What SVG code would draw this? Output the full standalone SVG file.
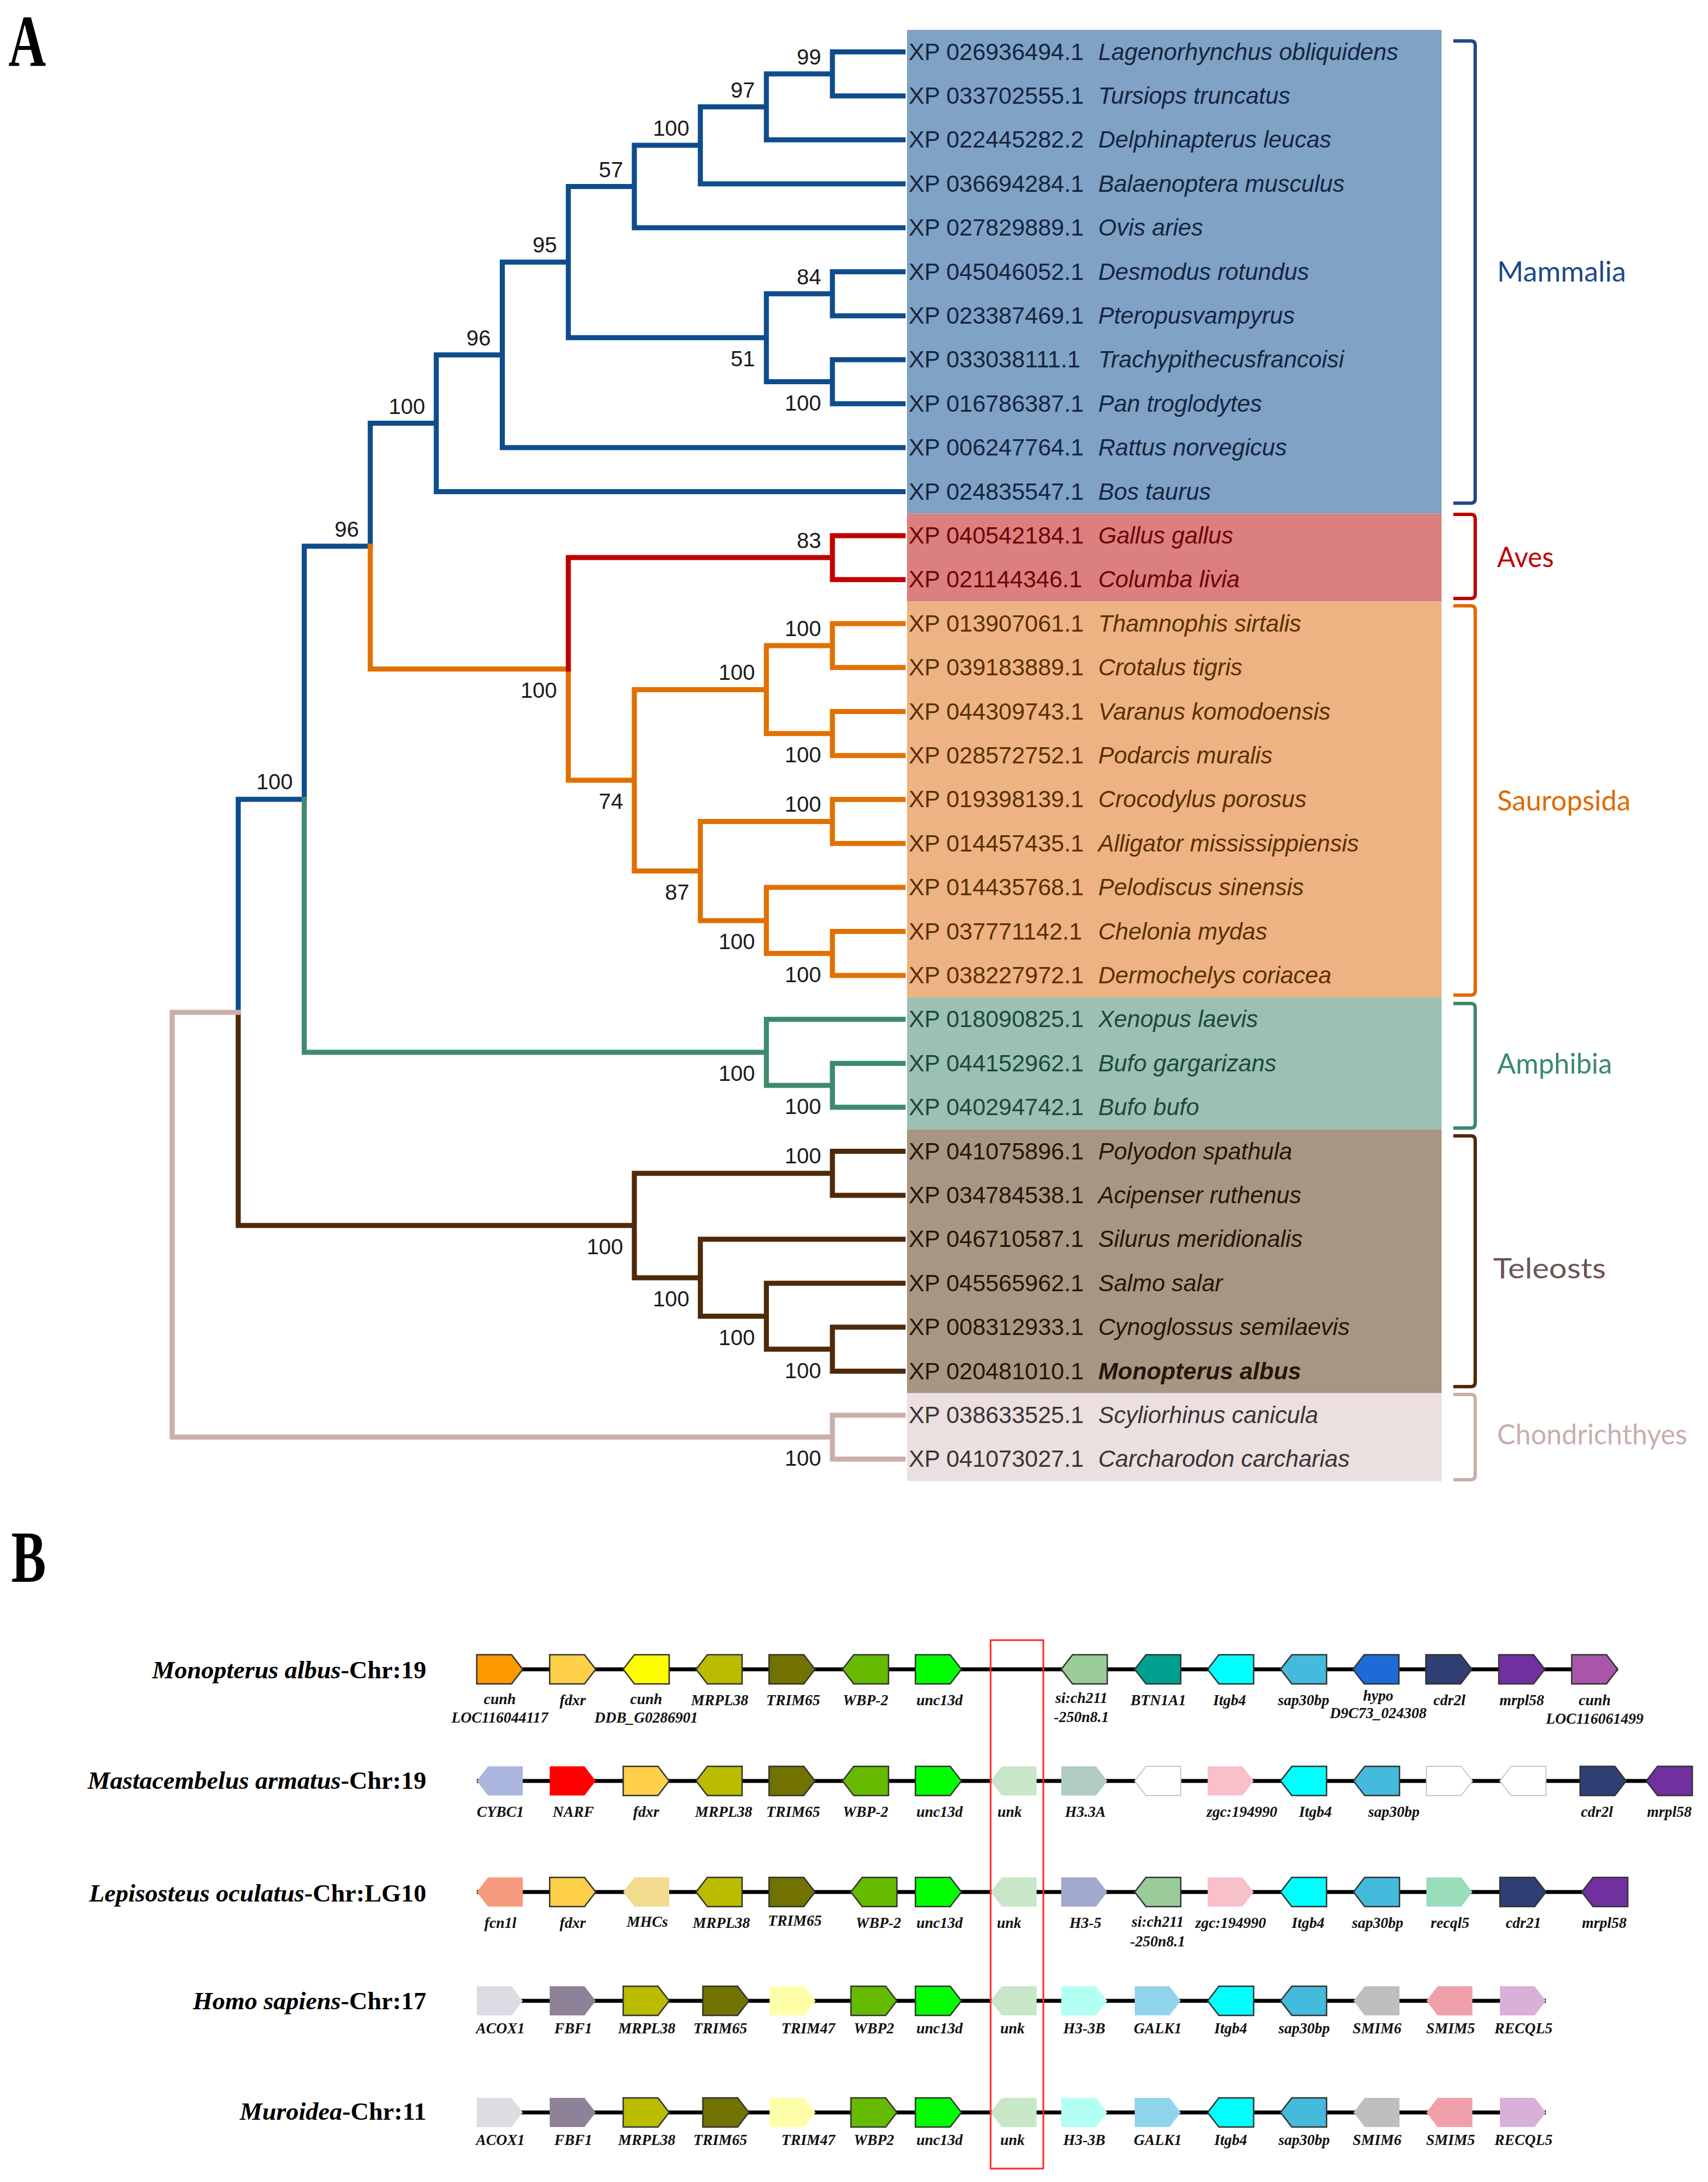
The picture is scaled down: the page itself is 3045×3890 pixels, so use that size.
<svg xmlns="http://www.w3.org/2000/svg" xmlns:xlink="http://www.w3.org/1999/xlink" width="3045" height="3890" viewBox="0 0 3045 3890">
<style>
.br{fill:none;stroke-width:9;stroke-linejoin:miter;stroke-linecap:square}
.bl{stroke:#0F4C8C}.rd{stroke:#C00000}.or{stroke:#E07000}.gr{stroke:#3E8A6C}.bw{stroke:#4E2A08}.pk{stroke:#C9AFAC}
.bs{font-family:"Liberation Sans",Arial,sans-serif;font-size:39px;fill:#1a1a1a;text-anchor:end}
.id{font-family:"Liberation Sans",Arial,sans-serif;font-size:42px}
.sp{font-family:"Liberation Sans",Arial,sans-serif;font-size:42px;font-style:italic}
.grp{font-family:Lato,"Open Sans",sans-serif;font-size:50px}
.bk{fill:none;stroke-width:6}
.bd{stroke:#333;stroke-width:2.5}
.nb{stroke:none}
.wb{stroke:#C8C8C8;stroke-width:2}
.gl{font-family:"Liberation Serif","Times New Roman",serif;font-weight:bold;font-style:italic;font-size:27px;text-anchor:middle;fill:#111}
.chr{font-family:"Liberation Serif","Times New Roman",serif;font-weight:bold;font-size:45px;text-anchor:end;fill:#000}
.bb{stroke:#000;stroke-width:7;fill:none}
.pl{font-family:"Liberation Serif","Times New Roman",serif;font-weight:bold;font-size:132px;fill:#000}
</style>
<defs>
<polygon id="gR" points="0,-26 62,-26 82,0 62,26 0,26"/>
<polygon id="gL" points="82,-26 20,-26 0,0 20,26 82,26"/>
</defs>
<rect width="3045" height="3890" fill="#fff"/>
<text class="pl" x="15" y="118" textLength="67" lengthAdjust="spacingAndGlyphs">A</text>
<text class="pl" x="20" y="2820" textLength="62" lengthAdjust="spacingAndGlyphs">B</text>

<!-- clade boxes -->
<g id="boxes">
<rect x="1617" y="53.3" width="953" height="862.4" fill="#7FA2C5"/>
<rect x="1617" y="915.7" width="953" height="156.8" fill="#DB7F7F"/>
<rect x="1617" y="1072.5" width="953" height="705.6" fill="#EDB383"/>
<rect x="1617" y="1778.1" width="953" height="235.2" fill="#9CC0B3"/>
<rect x="1617" y="2013.3" width="953" height="470.4" fill="#A99682"/>
<rect x="1617" y="2483.7" width="953" height="156.8" fill="#EBDFDF"/>
</g>

<g id="connectors">
<path class="br bl" d="M1610,92.5 H1484 V170.9 H1610 M1484,131.7 H1366.3 V249.3 H1610 M1366.3,190.5 H1248.6 V327.7 H1610 M1248.6,259.1 H1130.9 V406.1 H1610 M1610,484.5 H1484 V562.9 H1610 M1610,641.3 H1484 V719.7 H1610 M1484,523.7 H1366.3 V680.5 H1484 M1130.9,332.6 H1013.2 V602.1 H1366.3 M1013.2,467.35 H895.5 V798.1 H1610 M895.5,632.7 H777.8 V876.5 H1610 M777.8,754.6 H660.1 V973.7 M660.1,973.7 H542.4 V1424.9 M542.4,1424.9 H424.7 V1804.85"/>
<path class="br or" d="M660.1,973.7 V1192.7 H1013.2 M1013.2,1192.7 V1391.1 H1130.9 M1366.3,1229.5 H1130.9 V1552.7 H1248.6 M1484,1150.9 H1366.3 V1307.7 H1484 M1610,1111.7 H1484 V1190.1 H1610 M1610,1268.5 H1484 V1346.9 H1610 M1484,1464.5 H1248.6 V1641.3 H1366.3 M1610,1425.3 H1484 V1503.7 H1610 M1610,1582.1 H1366.3 V1699.7 H1484 M1610,1660.5 H1484 V1738.9 H1610"/>
<path class="br rd" d="M1013.2,1192.7 V994.1 H1484 M1610,954.9 H1484 V1033.3 H1610"/>
<path class="br gr" d="M542.4,1424.9 V1876.1 H1366.3 M1610,1817.3 H1366.3 V1934.9 H1484 M1610,1895.7 H1484 V1974.1 H1610"/>
<path class="br bw" d="M424.7,1804.85 V2184.8 H1130.9 M1484,2091.7 H1130.9 V2277.9 H1248.6 M1610,2052.5 H1484 V2130.9 H1610 M1610,2209.3 H1248.6 V2346.5 H1366.3 M1610,2287.7 H1366.3 V2405.3 H1484 M1610,2366.1 H1484 V2444.5 H1610"/>
<path class="br pk" d="M424.7,1804.85 H307 V2562.1 H1484 M1610,2522.9 H1484 V2601.3 H1610"/>
</g>

<g id="support">
<text class="bs" x="1464" y="115">99</text>
<text class="bs" x="1346" y="174">97</text>
<text class="bs" x="1229" y="242">100</text>
<text class="bs" x="1111" y="316">57</text>
<text class="bs" x="1464" y="507">84</text>
<text class="bs" x="1464" y="732">100</text>
<text class="bs" x="1346" y="653">51</text>
<text class="bs" x="993" y="450">95</text>
<text class="bs" x="875" y="616">96</text>
<text class="bs" x="758" y="738">100</text>
<text class="bs" x="640" y="957">96</text>
<text class="bs" x="993" y="1244">100</text>
<text class="bs" x="1464" y="977">83</text>
<text class="bs" x="1111" y="1442">74</text>
<text class="bs" x="1346" y="1212">100</text>
<text class="bs" x="1464" y="1134">100</text>
<text class="bs" x="1464" y="1359">100</text>
<text class="bs" x="1229" y="1604">87</text>
<text class="bs" x="1464" y="1447">100</text>
<text class="bs" x="1346" y="1692">100</text>
<text class="bs" x="1464" y="1751">100</text>
<text class="bs" x="522" y="1407">100</text>
<text class="bs" x="1346" y="1927">100</text>
<text class="bs" x="1464" y="1986">100</text>
<text class="bs" x="1111" y="2236">100</text>
<text class="bs" x="1464" y="2074">100</text>
<text class="bs" x="1229" y="2329">100</text>
<text class="bs" x="1346" y="2398">100</text>
<text class="bs" x="1464" y="2457">100</text>
<text class="bs" x="1464" y="2613">100</text>
</g>

<g id="leaves">
<g id="leaf1" fill="#15253F"><text class="id" x="1620" y="106.5">XP 026936494.1</text><text class="sp" x="1958" y="106.5">Lagenorhynchus obliquidens</text></g>
<g id="leaf2" fill="#15253F"><text class="id" x="1620" y="184.9">XP 033702555.1</text><text class="sp" x="1958" y="184.9">Tursiops truncatus</text></g>
<g id="leaf3" fill="#15253F"><text class="id" x="1620" y="263.3">XP 022445282.2</text><text class="sp" x="1958" y="263.3">Delphinapterus leucas</text></g>
<g id="leaf4" fill="#15253F"><text class="id" x="1620" y="341.7">XP 036694284.1</text><text class="sp" x="1958" y="341.7">Balaenoptera musculus</text></g>
<g id="leaf5" fill="#15253F"><text class="id" x="1620" y="420.1">XP 027829889.1</text><text class="sp" x="1958" y="420.1">Ovis aries</text></g>
<g id="leaf6" fill="#15253F"><text class="id" x="1620" y="498.5">XP 045046052.1</text><text class="sp" x="1958" y="498.5">Desmodus rotundus</text></g>
<g id="leaf7" fill="#15253F"><text class="id" x="1620" y="576.9">XP 023387469.1</text><text class="sp" x="1958" y="576.9">Pteropusvampyrus</text></g>
<g id="leaf8" fill="#15253F"><text class="id" x="1620" y="655.3">XP 033038111.1</text><text class="sp" x="1958" y="655.3">Trachypithecusfrancoisi</text></g>
<g id="leaf9" fill="#15253F"><text class="id" x="1620" y="733.7">XP 016786387.1</text><text class="sp" x="1958" y="733.7">Pan troglodytes</text></g>
<g id="leaf10" fill="#15253F"><text class="id" x="1620" y="812.1">XP 006247764.1</text><text class="sp" x="1958" y="812.1">Rattus norvegicus</text></g>
<g id="leaf11" fill="#15253F"><text class="id" x="1620" y="890.5">XP 024835547.1</text><text class="sp" x="1958" y="890.5">Bos taurus</text></g>
<g id="leaf12" fill="#6B0505"><text class="id" x="1620" y="968.9">XP 040542184.1</text><text class="sp" x="1958" y="968.9">Gallus gallus</text></g>
<g id="leaf13" fill="#6B0505"><text class="id" x="1620" y="1047.3">XP 021144346.1</text><text class="sp" x="1958" y="1047.3">Columba livia</text></g>
<g id="leaf14" fill="#5A3000"><text class="id" x="1620" y="1125.7">XP 013907061.1</text><text class="sp" x="1958" y="1125.7">Thamnophis sirtalis</text></g>
<g id="leaf15" fill="#5A3000"><text class="id" x="1620" y="1204.1">XP 039183889.1</text><text class="sp" x="1958" y="1204.1">Crotalus tigris</text></g>
<g id="leaf16" fill="#5A3000"><text class="id" x="1620" y="1282.5">XP 044309743.1</text><text class="sp" x="1958" y="1282.5">Varanus komodoensis</text></g>
<g id="leaf17" fill="#5A3000"><text class="id" x="1620" y="1360.9">XP 028572752.1</text><text class="sp" x="1958" y="1360.9">Podarcis muralis</text></g>
<g id="leaf18" fill="#5A3000"><text class="id" x="1620" y="1439.3">XP 019398139.1</text><text class="sp" x="1958" y="1439.3">Crocodylus porosus</text></g>
<g id="leaf19" fill="#5A3000"><text class="id" x="1620" y="1517.7">XP 014457435.1</text><text class="sp" x="1958" y="1517.7">Alligator mississippiensis</text></g>
<g id="leaf20" fill="#5A3000"><text class="id" x="1620" y="1596.1">XP 014435768.1</text><text class="sp" x="1958" y="1596.1">Pelodiscus sinensis</text></g>
<g id="leaf21" fill="#5A3000"><text class="id" x="1620" y="1674.5">XP 037771142.1</text><text class="sp" x="1958" y="1674.5">Chelonia mydas</text></g>
<g id="leaf22" fill="#5A3000"><text class="id" x="1620" y="1752.9">XP 038227972.1</text><text class="sp" x="1958" y="1752.9">Dermochelys coriacea</text></g>
<g id="leaf23" fill="#1A4A3A"><text class="id" x="1620" y="1831.3">XP 018090825.1</text><text class="sp" x="1958" y="1831.3">Xenopus laevis</text></g>
<g id="leaf24" fill="#1A4A3A"><text class="id" x="1620" y="1909.7">XP 044152962.1</text><text class="sp" x="1958" y="1909.7">Bufo gargarizans</text></g>
<g id="leaf25" fill="#1A4A3A"><text class="id" x="1620" y="1988.1">XP 040294742.1</text><text class="sp" x="1958" y="1988.1">Bufo bufo</text></g>
<g id="leaf26" fill="#24160A"><text class="id" x="1620" y="2066.5">XP 041075896.1</text><text class="sp" x="1958" y="2066.5">Polyodon spathula</text></g>
<g id="leaf27" fill="#24160A"><text class="id" x="1620" y="2144.9">XP 034784538.1</text><text class="sp" x="1958" y="2144.9">Acipenser ruthenus</text></g>
<g id="leaf28" fill="#24160A"><text class="id" x="1620" y="2223.3">XP 046710587.1</text><text class="sp" x="1958" y="2223.3">Silurus meridionalis</text></g>
<g id="leaf29" fill="#24160A"><text class="id" x="1620" y="2301.7">XP 045565962.1</text><text class="sp" x="1958" y="2301.7">Salmo salar</text></g>
<g id="leaf30" fill="#24160A"><text class="id" x="1620" y="2380.1">XP 008312933.1</text><text class="sp" x="1958" y="2380.1">Cynoglossus semilaevis</text></g>
<g id="leaf31" fill="#24160A"><text class="id" x="1620" y="2458.5">XP 020481010.1</text><text class="sp" x="1958" y="2458.5" font-weight="bold">Monopterus albus</text></g>
<g id="leaf32" fill="#3A3434"><text class="id" x="1620" y="2536.9">XP 038633525.1</text><text class="sp" x="1958" y="2536.9">Scyliorhinus canicula</text></g>
<g id="leaf33" fill="#3A3434"><text class="id" x="1620" y="2615.3">XP 041073027.1</text><text class="sp" x="1958" y="2615.3">Carcharodon carcharias</text></g>
</g>

<g id="clades">
<g id="mammalia"><path class="bk" stroke="#1F4A8A" d="M2591,73 H2622 Q2630,73 2630,81 V889 Q2630,897 2622,897 H2591"/><text class="grp" x="2669" y="502" fill="#1F4A8A" textLength="230" lengthAdjust="spacingAndGlyphs">Mammalia</text></g>
<g id="aves"><path class="bk" stroke="#C00000" d="M2591,917 H2622 Q2630,917 2630,925 V1059 Q2630,1067 2622,1067 H2591"/><text class="grp" x="2669" y="1011" fill="#C00000" textLength="101" lengthAdjust="spacingAndGlyphs">Aves</text></g>
<g id="sauropsida"><path class="bk" stroke="#E06A00" d="M2591,1080 H2622 Q2630,1080 2630,1088 V1766 Q2630,1774 2622,1774 H2591"/><text class="grp" x="2669" y="1445" fill="#E06A00" textLength="238" lengthAdjust="spacingAndGlyphs">Sauropsida</text></g>
<g id="amphibia"><path class="bk" stroke="#3A8A6A" d="M2591,1789 H2622 Q2630,1789 2630,1797 V2003 Q2630,2011 2622,2011 H2591"/><text class="grp" x="2669" y="1914" fill="#3A8A6A" textLength="205" lengthAdjust="spacingAndGlyphs">Amphibia</text></g>
<g id="teleosts"><path class="bk" stroke="#4E2A08" d="M2591,2025 H2622 Q2630,2025 2630,2033 V2464 Q2630,2472 2622,2472 H2591"/><text class="grp" x="2662" y="2279" fill="#6B5555" font-size="53" textLength="201" lengthAdjust="spacingAndGlyphs">Teleosts</text></g>
<g id="chondrichthyes"><path class="bk" stroke="#C9AFAC" d="M2591,2486 H2622 Q2630,2486 2630,2494 V2630 Q2630,2638 2622,2638 H2591"/><text class="grp" x="2669" y="2575" fill="#C8AEAC" textLength="339" lengthAdjust="spacingAndGlyphs">Chondrichthyes</text></g>
</g>

<!-- Panel B -->
<g id="backbones">
<line class="bb" x1="850" y1="2976" x2="2884" y2="2976"/>
<line class="bb" x1="850" y1="3175" x2="3017" y2="3175"/>
<line class="bb" x1="850" y1="3373" x2="2902" y2="3373"/>
<line class="bb" x1="850" y1="3567" x2="2756" y2="3567"/>
<line class="bb" x1="850" y1="3766" x2="2756" y2="3766"/>
</g>

<g id="species">
<text class="chr" x="760" y="2992"><tspan font-style="italic">Monopterus albus</tspan>-Chr:19</text>
<text class="chr" x="760" y="3189"><tspan font-style="italic">Mastacembelus armatus</tspan>-Chr:19</text>
<text class="chr" x="760" y="3390"><tspan font-style="italic">Lepisosteus oculatus</tspan>-Chr:LG10</text>
<text class="chr" x="760" y="3582"><tspan font-style="italic">Homo sapiens</tspan>-Chr:17</text>
<text class="chr" x="760" y="3779"><tspan font-style="italic">Muroidea</tspan>-Chr:11</text>
</g>

<g id="row1">
<g id="r1g0"><use href="#gR" x="850" y="2976" fill="#FF9900" class="bd"/><text class="gl" x="891" y="3038">cunh</text><text class="gl" x="891" y="3071">LOC116044117</text></g>
<g id="r1g1"><use href="#gR" x="980" y="2976" fill="#FFD04A" class="bd"/><text class="gl" x="1021" y="3040">fdxr</text></g>
<g id="r1g2"><use href="#gL" x="1111" y="2976" fill="#FFFF00" class="bd"/><text class="gl" x="1152" y="3038">cunh</text><text class="gl" x="1152" y="3071">DDB_G0286901</text></g>
<g id="r1g3"><use href="#gL" x="1241" y="2976" fill="#BBBB00" class="bd"/><text class="gl" x="1283" y="3040">MRPL38</text></g>
<g id="r1g4"><use href="#gR" x="1371" y="2976" fill="#727200" class="bd"/><text class="gl" x="1414" y="3040">TRIM65</text></g>
<g id="r1g5"><use href="#gL" x="1502" y="2976" fill="#66BB00" class="bd"/><text class="gl" x="1543" y="3040">WBP-2</text></g>
<g id="r1g6"><use href="#gR" x="1632" y="2976" fill="#00FF00" class="bd"/><text class="gl" x="1675" y="3040">unc13d</text></g>
<g id="r1g8"><use href="#gL" x="1892" y="2976" fill="#99CC99" class="bd"/><text class="gl" x="1928" y="3036">si:ch211</text><text class="gl" x="1928" y="3070">-250n8.1</text></g>
<g id="r1g9"><use href="#gL" x="2023" y="2976" fill="#00A090" class="bd"/><text class="gl" x="2065" y="3040">BTN1A1</text></g>
<g id="r1g10"><use href="#gL" x="2153" y="2976" fill="#00FFFF" class="bd"/><text class="gl" x="2192" y="3040">Itgb4</text></g>
<g id="r1g11"><use href="#gL" x="2283" y="2976" fill="#44BBDD" class="bd"/><text class="gl" x="2324" y="3040">sap30bp</text></g>
<g id="r1g12"><use href="#gL" x="2412" y="2976" fill="#1E6AD6" class="bd"/><text class="gl" x="2457" y="3032">hypo</text><text class="gl" x="2457" y="3063">D9C73_024308</text></g>
<g id="r1g13"><use href="#gR" x="2542" y="2976" fill="#2F3F73" class="bd"/><text class="gl" x="2584" y="3040">cdr2l</text></g>
<g id="r1g14"><use href="#gR" x="2672" y="2976" fill="#7030A0" class="bd"/><text class="gl" x="2713" y="3040">mrpl58</text></g>
<g id="r1g15"><use href="#gR" x="2802" y="2976" fill="#A855AA" class="bd"/><text class="gl" x="2843" y="3040">cunh</text><text class="gl" x="2843" y="3073">LOC116061499</text></g>
</g>

<g id="row2">
<g id="r2g0"><use href="#gL" x="850" y="3175" fill="#AAB6DD" class="nb"/><text class="gl" x="892" y="3239">CYBC1</text></g>
<g id="r2g1"><use href="#gR" x="980" y="3175" fill="#FF0000" class="nb"/><text class="gl" x="1022" y="3239">NARF</text></g>
<g id="r2g2"><use href="#gR" x="1111" y="3175" fill="#FFD04A" class="bd"/><text class="gl" x="1152" y="3239">fdxr</text></g>
<g id="r2g3"><use href="#gL" x="1241" y="3175" fill="#BBBB00" class="bd"/><text class="gl" x="1290" y="3239">MRPL38</text></g>
<g id="r2g4"><use href="#gR" x="1371" y="3175" fill="#727200" class="bd"/><text class="gl" x="1414" y="3239">TRIM65</text></g>
<g id="r2g5"><use href="#gL" x="1502" y="3175" fill="#66BB00" class="bd"/><text class="gl" x="1543" y="3239">WBP-2</text></g>
<g id="r2g6"><use href="#gR" x="1632" y="3175" fill="#00FF00" class="bd"/><text class="gl" x="1675" y="3239">unc13d</text></g>
<g id="r2g7"><use href="#gL" x="1766" y="3175" fill="#C8E6C8" class="nb"/><text class="gl" x="1800" y="3239">unk</text></g>
<g id="r2g8"><use href="#gR" x="1892" y="3175" fill="#B0CCC4" class="nb"/><text class="gl" x="1935" y="3239">H3.3A</text></g>
<g id="r2g9"><use href="#gL" x="2023" y="3175" fill="#FFFFFF" class="wb"/></g>
<g id="r2g10"><use href="#gR" x="2153" y="3175" fill="#F8C0CA" class="nb"/><text class="gl" x="2214" y="3239">zgc:194990</text></g>
<g id="r2g11"><use href="#gL" x="2283" y="3175" fill="#00FFFF" class="bd"/><text class="gl" x="2345" y="3239">Itgb4</text></g>
<g id="r2g12"><use href="#gL" x="2413" y="3175" fill="#44BBDD" class="bd"/><text class="gl" x="2485" y="3239">sap30bp</text></g>
<g id="r2g13"><use href="#gR" x="2543" y="3175" fill="#FFFFFF" class="wb"/></g>
<g id="r2g14"><use href="#gL" x="2674" y="3175" fill="#FFFFFF" class="wb"/></g>
<g id="r2g15"><use href="#gR" x="2817" y="3175" fill="#2F3F73" class="bd"/><text class="gl" x="2847" y="3239">cdr2l</text></g>
<g id="r2g16"><use href="#gL" x="2935" y="3175" fill="#7030A0" class="bd"/><text class="gl" x="2976" y="3239">mrpl58</text></g>
</g>

<g id="row3">
<g id="r3g0"><use href="#gL" x="850" y="3373" fill="#F59A7C" class="nb"/><text class="gl" x="892" y="3437">fcn1l</text></g>
<g id="r3g1"><use href="#gR" x="980" y="3373" fill="#FFD04A" class="bd"/><text class="gl" x="1021" y="3437">fdxr</text></g>
<g id="r3g2"><use href="#gL" x="1111" y="3373" fill="#F0DC8C" class="nb"/><text class="gl" x="1154" y="3435">MHCs</text></g>
<g id="r3g3"><use href="#gL" x="1241" y="3373" fill="#BBBB00" class="bd"/><text class="gl" x="1286" y="3437">MRPL38</text></g>
<g id="r3g4"><use href="#gR" x="1371" y="3373" fill="#727200" class="bd"/><text class="gl" x="1417" y="3433">TRIM65</text></g>
<g id="r3g5"><use href="#gL" x="1517" y="3373" fill="#66BB00" class="bd"/><text class="gl" x="1566" y="3437">WBP-2</text></g>
<g id="r3g6"><use href="#gR" x="1632" y="3373" fill="#00FF00" class="bd"/><text class="gl" x="1675" y="3437">unc13d</text></g>
<g id="r3g7"><use href="#gL" x="1766" y="3373" fill="#C8E6C8" class="nb"/><text class="gl" x="1799" y="3437">unk</text></g>
<g id="r3g8"><use href="#gR" x="1892" y="3373" fill="#A0A8CC" class="nb"/><text class="gl" x="1935" y="3437">H3-5</text></g>
<g id="r3g9"><use href="#gL" x="2023" y="3373" fill="#99CC99" class="bd"/><text class="gl" x="2064" y="3435">si:ch211</text><text class="gl" x="2064" y="3470">-250n8.1</text></g>
<g id="r3g10"><use href="#gR" x="2153" y="3373" fill="#F8C0CA" class="nb"/><text class="gl" x="2194" y="3437">zgc:194990</text></g>
<g id="r3g11"><use href="#gL" x="2283" y="3373" fill="#00FFFF" class="bd"/><text class="gl" x="2332" y="3437">Itgb4</text></g>
<g id="r3g12"><use href="#gL" x="2413" y="3373" fill="#44BBDD" class="bd"/><text class="gl" x="2456" y="3437">sap30bp</text></g>
<g id="r3g13"><use href="#gR" x="2543" y="3373" fill="#99DDBB" class="nb"/><text class="gl" x="2585" y="3437">recql5</text></g>
<g id="r3g14"><use href="#gR" x="2674" y="3373" fill="#2F3F73" class="bd"/><text class="gl" x="2716" y="3437">cdr21</text></g>
<g id="r3g15"><use href="#gL" x="2820" y="3373" fill="#7030A0" class="bd"/><text class="gl" x="2860" y="3437">mrpl58</text></g>
</g>

<g id="row4">
<g id="r4g0"><use href="#gR" x="850" y="3567" fill="#DCDCE4" class="nb"/><text class="gl" x="892" y="3625">ACOX1</text></g>
<g id="r4g1"><use href="#gR" x="980" y="3567" fill="#8E8298" class="nb"/><text class="gl" x="1022" y="3625">FBF1</text></g>
<g id="r4g2"><use href="#gR" x="1111" y="3567" fill="#BBBB00" class="bd"/><text class="gl" x="1153" y="3625">MRPL38</text></g>
<g id="r4g3"><use href="#gR" x="1253" y="3567" fill="#727200" class="bd"/><text class="gl" x="1284" y="3625">TRIM65</text></g>
<g id="r4g4"><use href="#gR" x="1372" y="3567" fill="#FFFFAA" class="nb"/><text class="gl" x="1441" y="3625">TRIM47</text></g>
<g id="r4g5"><use href="#gR" x="1517" y="3567" fill="#66BB00" class="bd"/><text class="gl" x="1558" y="3625">WBP2</text></g>
<g id="r4g6"><use href="#gR" x="1632" y="3567" fill="#00FF00" class="bd"/><text class="gl" x="1675" y="3625">unc13d</text></g>
<g id="r4g7"><use href="#gL" x="1766" y="3567" fill="#C8E6C8" class="nb"/><text class="gl" x="1805" y="3625">unk</text></g>
<g id="r4g8"><use href="#gR" x="1892" y="3567" fill="#B4FFF4" class="nb"/><text class="gl" x="1933" y="3625">H3-3B</text></g>
<g id="r4g9"><use href="#gR" x="2023" y="3567" fill="#90D4EC" class="nb"/><text class="gl" x="2064" y="3625">GALK1</text></g>
<g id="r4g10"><use href="#gL" x="2153" y="3567" fill="#00FFFF" class="bd"/><text class="gl" x="2194" y="3625">Itgb4</text></g>
<g id="r4g11"><use href="#gL" x="2283" y="3567" fill="#44BBDD" class="bd"/><text class="gl" x="2325" y="3625">sap30bp</text></g>
<g id="r4g12"><use href="#gL" x="2413" y="3567" fill="#BEBEBE" class="nb"/><text class="gl" x="2455" y="3625">SMIM6</text></g>
<g id="r4g13"><use href="#gL" x="2543" y="3567" fill="#F0A0A8" class="nb"/><text class="gl" x="2586" y="3625">SMIM5</text></g>
<g id="r4g14"><use href="#gR" x="2674" y="3567" fill="#D8B0D8" class="nb"/><text class="gl" x="2716" y="3625">RECQL5</text></g>
</g>

<g id="row5">
<g id="r5g0"><use href="#gR" x="850" y="3766" fill="#DCDCE4" class="nb"/><text class="gl" x="892" y="3824">ACOX1</text></g>
<g id="r5g1"><use href="#gR" x="980" y="3766" fill="#8E8298" class="nb"/><text class="gl" x="1022" y="3824">FBF1</text></g>
<g id="r5g2"><use href="#gR" x="1111" y="3766" fill="#BBBB00" class="bd"/><text class="gl" x="1153" y="3824">MRPL38</text></g>
<g id="r5g3"><use href="#gR" x="1253" y="3766" fill="#727200" class="bd"/><text class="gl" x="1284" y="3824">TRIM65</text></g>
<g id="r5g4"><use href="#gR" x="1372" y="3766" fill="#FFFFAA" class="nb"/><text class="gl" x="1441" y="3824">TRIM47</text></g>
<g id="r5g5"><use href="#gR" x="1517" y="3766" fill="#66BB00" class="bd"/><text class="gl" x="1558" y="3824">WBP2</text></g>
<g id="r5g6"><use href="#gR" x="1632" y="3766" fill="#00FF00" class="bd"/><text class="gl" x="1675" y="3824">unc13d</text></g>
<g id="r5g7"><use href="#gL" x="1766" y="3766" fill="#C8E6C8" class="nb"/><text class="gl" x="1805" y="3824">unk</text></g>
<g id="r5g8"><use href="#gR" x="1892" y="3766" fill="#B4FFF4" class="nb"/><text class="gl" x="1933" y="3824">H3-3B</text></g>
<g id="r5g9"><use href="#gR" x="2023" y="3766" fill="#90D4EC" class="nb"/><text class="gl" x="2064" y="3824">GALK1</text></g>
<g id="r5g10"><use href="#gL" x="2153" y="3766" fill="#00FFFF" class="bd"/><text class="gl" x="2194" y="3824">Itgb4</text></g>
<g id="r5g11"><use href="#gL" x="2283" y="3766" fill="#44BBDD" class="bd"/><text class="gl" x="2325" y="3824">sap30bp</text></g>
<g id="r5g12"><use href="#gL" x="2413" y="3766" fill="#BEBEBE" class="nb"/><text class="gl" x="2455" y="3824">SMIM6</text></g>
<g id="r5g13"><use href="#gL" x="2543" y="3766" fill="#F0A0A8" class="nb"/><text class="gl" x="2586" y="3824">SMIM5</text></g>
<g id="r5g14"><use href="#gR" x="2674" y="3766" fill="#D8B0D8" class="nb"/><text class="gl" x="2716" y="3824">RECQL5</text></g>
</g>

<rect id="highlight" x="1766" y="2924" width="94" height="942" fill="none" stroke="#FF2A2A" stroke-width="3"/>
</svg>
